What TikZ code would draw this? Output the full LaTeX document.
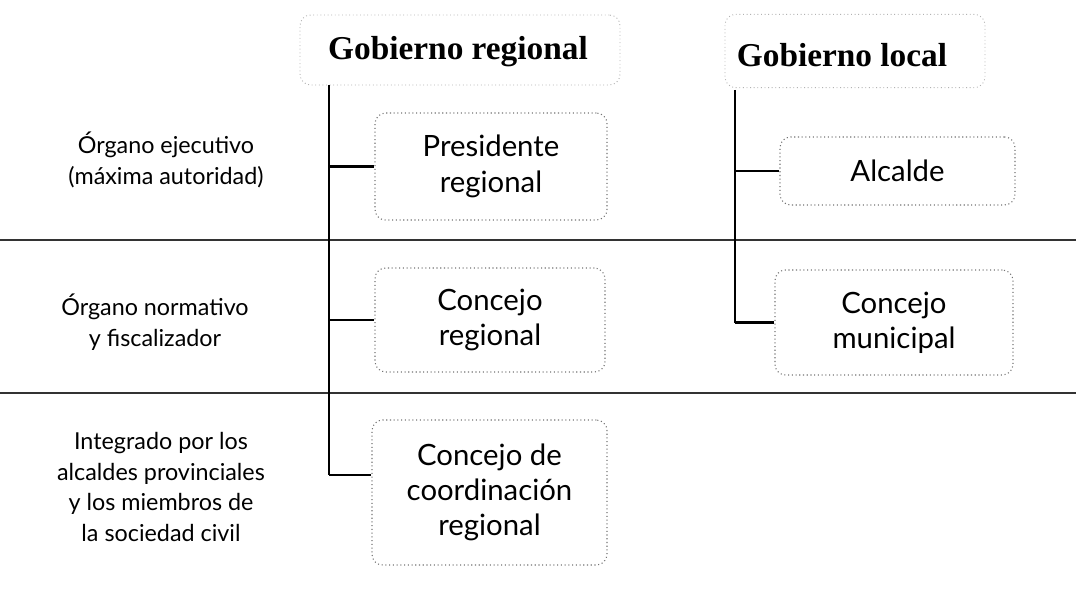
\documentclass[tikz,border=0pt]{standalone}
\usepackage{fontspec}
\setmainfont{Lato}
\newfontfamily\headfont{Liberation Serif}
\begin{document}
\begin{tikzpicture}[x=0.75pt,y=-0.75pt,
  box/.style={draw=black!55, dotted, line width=0.8pt, rounded corners=8pt, align=center, inner sep=0pt, font=\fontsize{22}{26.5}\selectfont},
  headbox/.style={draw=black!30, dotted, line width=0.7pt, rounded corners=8pt, inner sep=0pt},
  headtxt/.style={inner sep=0pt, font=\headfont\bfseries\fontsize{25}{28}\selectfont},
  lbl/.style={align=center, font=\fontsize{17.5}{23}\selectfont},
  conn/.style={line width=2pt, black},
  sep/.style={line width=0.8pt, black!80}]
\useasboundingbox (0,0) rectangle (1076,592);
% separators
\draw[sep] (0,240) -- (1076,240);
\draw[sep] (0,393) -- (1076,393);
% headers
\node[headbox, minimum width=240pt, minimum height=52.5pt] (greg) at (460,50) {};
\node[headtxt] (gregT) at (458,52) {Gobierno regional};
\node[headbox, minimum width=195pt, minimum height=55pt] (gloc) at (855,51) {};
\node[headtxt] (glocT) at (842,55) {Gobierno local};
% regional boxes
\node[box, minimum width=174pt, minimum height=80.25pt] (pres) at (491,166.5) {Presidente\\regional};
\node[box, minimum width=172.5pt, minimum height=78pt] (creg) at (490,320) {Concejo\\regional};
\node[box, minimum width=176.25pt, minimum height=108.75pt] (ccr) at (489.5,492.5) {Concejo de\\coordinación\\regional};
% local boxes
\node[box, minimum width=176.25pt, minimum height=51pt] (alc) at (897.5,171) {Alcalde};
\node[box, minimum width=178.5pt, minimum height=78.75pt] (cmun) at (894,322.5) {Concejo\\municipal};
% left labels
\node[lbl] (l1) at (166,160) {Órgano ejecutivo\\(máxima autoridad)};
\node[lbl] (l2) at (155,322) {Órgano normativo\\y fiscalizador};
\node[lbl] (l3) at (161,487) {Integrado por los\\alcaldes provinciales\\y los miembros de\\la sociedad civil};
% regional trunk
\coordinate (rtop) at (329,85);
\coordinate (rbot) at (329,475);
\draw[conn] (rtop) -- (rbot);
\draw[conn] (rtop |- pres.west) -- (pres.west);
\draw[conn] (rtop |- creg.west) -- (creg.west);
\draw[conn] (rbot) -- (rbot -| ccr.west);
% local trunk
\coordinate (ltop) at (735,90);
\coordinate (lbot) at (735,322.5);
\draw[conn] (ltop) -- (lbot);
\draw[conn] (ltop |- alc.west) -- (alc.west);
\draw[conn] (lbot) -- (cmun.west);
\end{tikzpicture}
\end{document}
